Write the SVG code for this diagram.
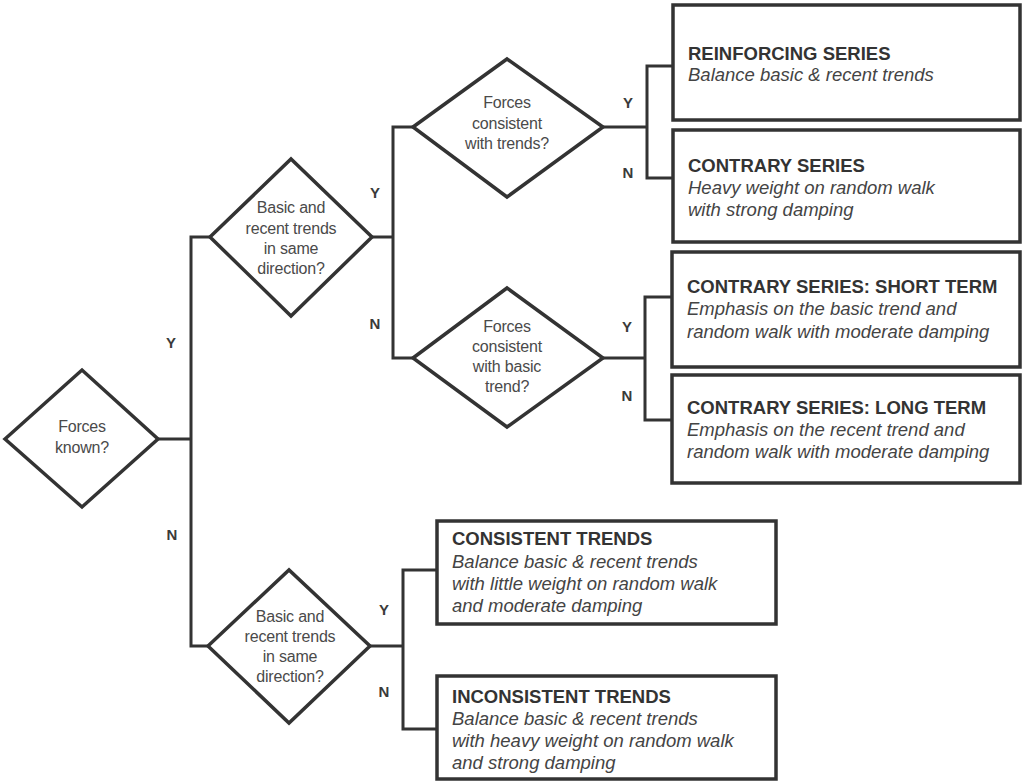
<svg xmlns="http://www.w3.org/2000/svg" width="1025" height="783" viewBox="0 0 1025 783">
<style>
.dia{fill:#fff;stroke:#333;stroke-width:3.5;stroke-linejoin:miter}
.box{fill:#fff;stroke:#333;stroke-width:3.5}
.conn{fill:none;stroke:#333;stroke-width:3}
.dt{font-family:"Liberation Sans",Arial,sans-serif;font-size:16px;letter-spacing:-0.2px;fill:#4a4a4a;text-anchor:middle}
.lbl{font-family:"Liberation Sans",Arial,sans-serif;font-size:15px;font-weight:bold;fill:#3a3a3a;text-anchor:middle}
.bt{font-family:"Liberation Sans",Arial,sans-serif;font-size:18.5px;font-weight:bold;fill:#333}
.bi{font-family:"Liberation Sans",Arial,sans-serif;font-size:18.5px;font-style:italic;fill:#444}
</style>
<rect width="1025" height="783" fill="#fff"/>
<g id="connectors">
<polyline class="conn" points="158,439 191,439"/>
<polyline class="conn" points="210,237 191,237 191,646 208,646"/>
<polyline class="conn" points="372,237 393,237"/>
<polyline class="conn" points="413,127 393,127 393,358 413,358"/>
<polyline class="conn" points="603,127 647,127"/>
<polyline class="conn" points="673,66 647,66 647,178 673,178"/>
<polyline class="conn" points="603,358 645,358"/>
<polyline class="conn" points="672,297 645,297 645,420 672,420"/>
<polyline class="conn" points="370,646 403,646"/>
<polyline class="conn" points="437,570 403,570 403,729 437,729"/>
<text class="lbl" x="171" y="348">Y</text>
<text class="lbl" x="172" y="540">N</text>
<text class="lbl" x="375" y="198">Y</text>
<text class="lbl" x="375" y="329">N</text>
<text class="lbl" x="628" y="108">Y</text>
<text class="lbl" x="628" y="178">N</text>
<text class="lbl" x="627" y="332">Y</text>
<text class="lbl" x="627" y="401">N</text>
<text class="lbl" x="384" y="615">Y</text>
<text class="lbl" x="384" y="697">N</text>
</g>
<g id="d-forces-known">
<polygon class="dia" points="5,439 82,370 158,439 82,507"/>
<text class="dt" x="82" y="432">Forces</text>
<text class="dt" x="82" y="453">known?</text>
</g>
<g id="d-trends-same-top">
<polygon class="dia" points="210,237 291,159 372,237 291,316"/>
<text class="dt" x="291" y="213">Basic and</text>
<text class="dt" x="291" y="234">recent trends</text>
<text class="dt" x="291" y="254">in same</text>
<text class="dt" x="291" y="274">direction?</text>
</g>
<g id="d-forces-consistent-trends">
<polygon class="dia" points="413,127 507,59 603,127 507,197"/>
<text class="dt" x="507" y="108">Forces</text>
<text class="dt" x="507" y="129">consistent</text>
<text class="dt" x="507" y="149">with trends?</text>
</g>
<g id="d-forces-consistent-basic">
<polygon class="dia" points="413,358 507,288 603,358 507,427"/>
<text class="dt" x="507" y="332">Forces</text>
<text class="dt" x="507" y="352">consistent</text>
<text class="dt" x="507" y="372">with basic</text>
<text class="dt" x="507" y="392">trend?</text>
</g>
<g id="d-trends-same-bottom">
<polygon class="dia" points="208,646 289,570 370,646 289,723"/>
<text class="dt" x="290" y="622">Basic and</text>
<text class="dt" x="290" y="642">recent trends</text>
<text class="dt" x="290" y="662">in same</text>
<text class="dt" x="290" y="682">direction?</text>
</g>
<g id="b-reinforcing">
<rect class="box" x="673" y="5" width="347" height="115"/>
<text class="bt" x="688" y="60">REINFORCING SERIES</text>
<text class="bi" x="688" y="81">Balance basic &amp; recent trends</text>
</g>
<g id="b-contrary">
<rect class="box" x="673" y="130" width="347" height="112"/>
<text class="bt" x="688" y="172">CONTRARY SERIES</text>
<text class="bi" x="688" y="194">Heavy weight on random walk</text>
<text class="bi" x="688" y="216">with strong damping</text>
</g>
<g id="b-contrary-short">
<rect class="box" x="672" y="252" width="348" height="115"/>
<text class="bt" x="687" y="293">CONTRARY SERIES: SHORT TERM</text>
<text class="bi" x="687" y="315">Emphasis on the basic trend and</text>
<text class="bi" x="687" y="338">random walk with moderate damping</text>
</g>
<g id="b-contrary-long">
<rect class="box" x="672" y="375" width="348" height="108"/>
<text class="bt" x="687" y="414">CONTRARY SERIES: LONG TERM</text>
<text class="bi" x="687" y="436">Emphasis on the recent trend and</text>
<text class="bi" x="687" y="458">random walk with moderate damping</text>
</g>
<g id="b-consistent">
<rect class="box" x="437" y="521" width="339" height="103"/>
<text class="bt" x="452" y="545">CONSISTENT TRENDS</text>
<text class="bi" x="452" y="568">Balance basic &amp; recent trends</text>
<text class="bi" x="452" y="590">with little weight on random walk</text>
<text class="bi" x="452" y="612">and moderate damping</text>
</g>
<g id="b-inconsistent">
<rect class="box" x="437" y="676" width="339" height="103"/>
<text class="bt" x="452" y="703">INCONSISTENT TRENDS</text>
<text class="bi" x="452" y="725">Balance basic &amp; recent trends</text>
<text class="bi" x="452" y="747">with heavy weight on random walk</text>
<text class="bi" x="452" y="769">and strong damping</text>
</g>
</svg>
